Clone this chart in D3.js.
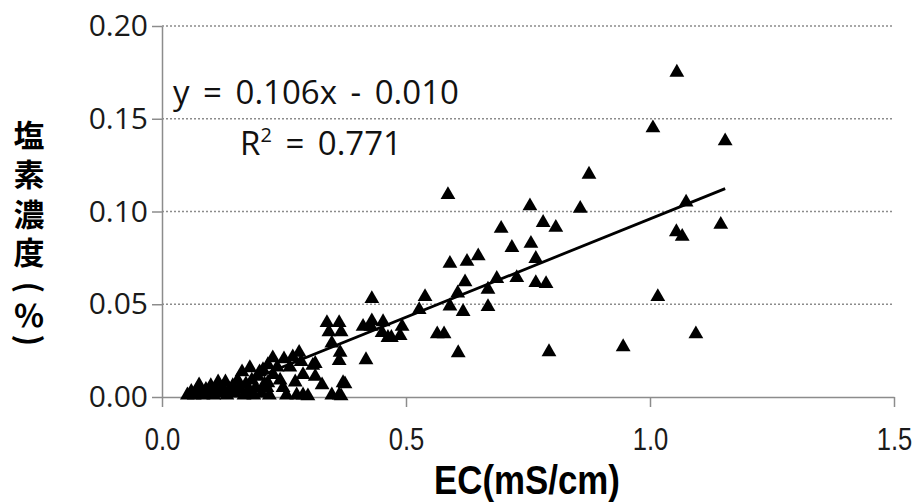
<!DOCTYPE html>
<html>
<head>
<meta charset="utf-8">
<script src="https://cdn.jsdelivr.net/npm/d3@7"></script>
<style>
    body { margin: 0; background: #fff; }
    .grid-line { stroke: #8c8c8c; stroke-width: 1.5; stroke-dasharray: 2,2; }
    .axis path, .axis line { stroke: #8c8c8c; stroke-width: 1.5; }
    .y.axis text { font-family: "Open Sans", sans-serif; font-size: 30px; fill: #1a1a1a; }
    .x.axis text { font-family: "Liberation Sans", sans-serif; font-size: 32px; fill: #1a1a1a; }
</style>
</head>
<body>
<script>
// EC (mS/cm), chloride (%)
const points = [
    [0.052, 0.001], [0.060, 0.003], [0.066, 0.001], [0.072, 0.004], [0.076, 0.0065], [0.078, 0.002],
    [0.084, 0.001], [0.090, 0.004], [0.096, 0.002], [0.100, 0.006], [0.106, 0.001], [0.110, 0.004],
    [0.115, 0.008], [0.118, 0.002], [0.124, 0.005], [0.130, 0.008], [0.133, 0.001], [0.138, 0.004],
    [0.145, 0.006], [0.150, 0.002], [0.155, 0.009], [0.160, 0.004], [0.164, 0.0135], [0.168, 0.001],
    [0.172, 0.007], [0.176, 0.003], [0.180, 0.0157], [0.184, 0.009], [0.188, 0.001], [0.192, 0.005],
    [0.196, 0.011], [0.200, 0.0135], [0.204, 0.002], [0.207, 0.0146], [0.210, 0.007], [0.215, 0.005],
    [0.217, 0.0173], [0.217, 0.0076], [0.220, 0.001], [0.227, 0.021], [0.228, 0.012], [0.236, 0.016],
    [0.242, 0.009], [0.248, 0.005], [0.250, 0.0205], [0.255, 0.001], [0.262, 0.016], [0.268, 0.0216],
    [0.273, 0.008], [0.276, 0.001], [0.281, 0.024], [0.285, 0.019], [0.289, 0.012], [0.289, 0.001],
    [0.299, 0.0005], [0.309, 0.017], [0.314, 0.018], [0.314, 0.011], [0.328, 0.0065],
    [0.338, 0.040], [0.342, 0.035], [0.348, 0.029], [0.348, 0.001], [0.363, 0.040], [0.367, 0.035],
    [0.365, 0.024], [0.363, 0.0195], [0.363, 0.001], [0.371, 0.0076], [0.367, 0.0005], [0.375, 0.007],
    [0.418, 0.020], [0.412, 0.038], [0.428, 0.038], [0.430, 0.041], [0.430, 0.053], [0.451, 0.0346],
    [0.453, 0.0405], [0.463, 0.032], [0.470, 0.032], [0.488, 0.033], [0.492, 0.038], [0.527, 0.047],
    [0.539, 0.054], [0.564, 0.034], [0.578, 0.034], [0.586, 0.109], [0.590, 0.072], [0.590, 0.049],
    [0.606, 0.056], [0.607, 0.0238], [0.617, 0.046], [0.621, 0.062], [0.625, 0.073], [0.648, 0.076],
    [0.668, 0.058], [0.668, 0.0486], [0.686, 0.0638], [0.695, 0.0908], [0.717, 0.0805], [0.727, 0.0643],
    [0.754, 0.103], [0.756, 0.0827], [0.766, 0.0746], [0.766, 0.0616], [0.781, 0.094], [0.787, 0.061],
    [0.793, 0.0243], [0.807, 0.0914], [0.857, 0.1016], [0.875, 0.120], [0.945, 0.027], [1.006, 0.145],
    [1.016, 0.054], [1.055, 0.175], [1.054, 0.089], [1.066, 0.0865], [1.074, 0.105], [1.094, 0.034],
    [1.145, 0.093], [1.154, 0.138]
];

const xTicks = [0, 0.5, 1.0, 1.5];
const yTicks = [0, 0.05, 0.10, 0.15, 0.20];
const trend = {slope: 0.106, intercept: -0.010};
const equationText = 'y = 0.106x - 0.010';
const xTitle = 'EC(mS/cm)';
const yTitleChars = ['塩', '素', '濃', '度', '(', '％', ')'];

const width = 912, height = 504;
const margins = {top: 26, left: 162, right: 18, bottom: 107};

const svg = d3.select('body').append('svg')
    .attr('width', width)
    .attr('height', height);

const x = d3.scaleLinear().domain([0, 1.5]).range([margins.left, width - margins.right]);
const y = d3.scaleLinear().domain([0, 0.2]).range([height - margins.bottom, margins.top]);

// gridlines
svg.append('g').selectAll('line')
    .data(yTicks.filter(d => d > 0))
    .enter().append('line')
    .attr('class', 'grid-line')
    .attr('x1', x(0))
    .attr('x2', x(1.5))
    .attr('y1', d => y(d))
    .attr('y2', d => y(d));

// axes
svg.append('g')
    .attr('class', 'y axis')
    .attr('transform', 'translate(' + x(0) + ',0)')
    .call(d3.axisLeft(y).tickValues(yTicks).tickFormat(d3.format('.2f'))
        .tickSizeInner(10).tickSizeOuter(0).tickPadding(4));

svg.append('g')
    .attr('class', 'x axis')
    .attr('transform', 'translate(0,' + y(0) + ')')
    .call(d3.axisBottom(x).tickValues(xTicks).tickFormat(d3.format('.1f'))
        .tickSizeInner(10).tickSizeOuter(0).tickPadding(20))
    .selectAll('.tick text')
    .attr('transform', 'scale(0.8,1)');

// clip for the trendline
svg.append('clipPath')
    .attr('id', 'body-clip')
    .append('rect')
    .attr('x', x(0))
    .attr('y', y(0.2))
    .attr('width', x(1.5) - x(0))
    .attr('height', y(0) - y(0.2));

const xExt = d3.extent(points, d => d[0]);
svg.append('line')
    .attr('clip-path', 'url(#body-clip)')
    .attr('x1', x(xExt[0]))
    .attr('y1', y(trend.slope * xExt[0] + trend.intercept))
    .attr('x2', x(xExt[1]))
    .attr('y2', y(trend.slope * xExt[1] + trend.intercept))
    .attr('stroke', '#000')
    .attr('stroke-width', 2.8);

// markers
const tri = d3.symbol().type(d3.symbolTriangle).size(95);
svg.append('g').selectAll('path')
    .data(points)
    .enter().append('path')
    .attr('d', tri)
    .attr('transform', d => 'translate(' + x(d[0]) + ',' + y(d[1]) + ')')
    .attr('fill', '#000');

// equation
const eq = svg.append('g')
    .style('font-family', '"Open Sans", sans-serif')
    .style('font-size', '33px')
    .style('word-spacing', '5px')
    .attr('fill', '#111');
eq.append('text')
    .attr('x', 173)
    .attr('y', 104)
    .text(equationText);
const r2 = eq.append('text')
    .attr('x', 240)
    .attr('y', 155);
r2.append('tspan').text('R');
r2.append('tspan').attr('dy', -13).style('font-size', '20px').text('2');
r2.append('tspan').attr('dy', 13).text(' = 0.771');

// axis titles
svg.append('text')
    .attr('transform', 'translate(527,494) scale(0.85,1)')
    .attr('text-anchor', 'middle')
    .style('font-family', '"Liberation Sans", sans-serif')
    .style('font-weight', 'bold')
    .style('font-size', '41px')
    .text(xTitle);

// vertical y title: a single text with one position per glyph, parens turned flat
const yCenters = [136, 175, 215, 253, 287, 316, 340];
const fs = 31, cx = 29;
const isParen = d => d === '(' || d === ')';
svg.append('text')
    .attr('x', yTitleChars.map(d => (isParen(d) ? cx - 0.35 * fs : cx - fs / 2).toFixed(1)).join(' '))
    .attr('y', yTitleChars.map((d, i) => (isParen(d) ? yCenters[i] - 0.18 * fs : yCenters[i] + 0.36 * fs).toFixed(1)).join(' '))
    .attr('rotate', yTitleChars.map(d => isParen(d) ? 90 : 0).join(' '))
    .style('font-family', '"Noto Sans CJK JP", sans-serif')
    .style('font-weight', 'bold')
    .style('font-size', fs + 'px')
    .attr('fill', '#000')
    .text(yTitleChars.join(''));
</script>
</body>
</html>
